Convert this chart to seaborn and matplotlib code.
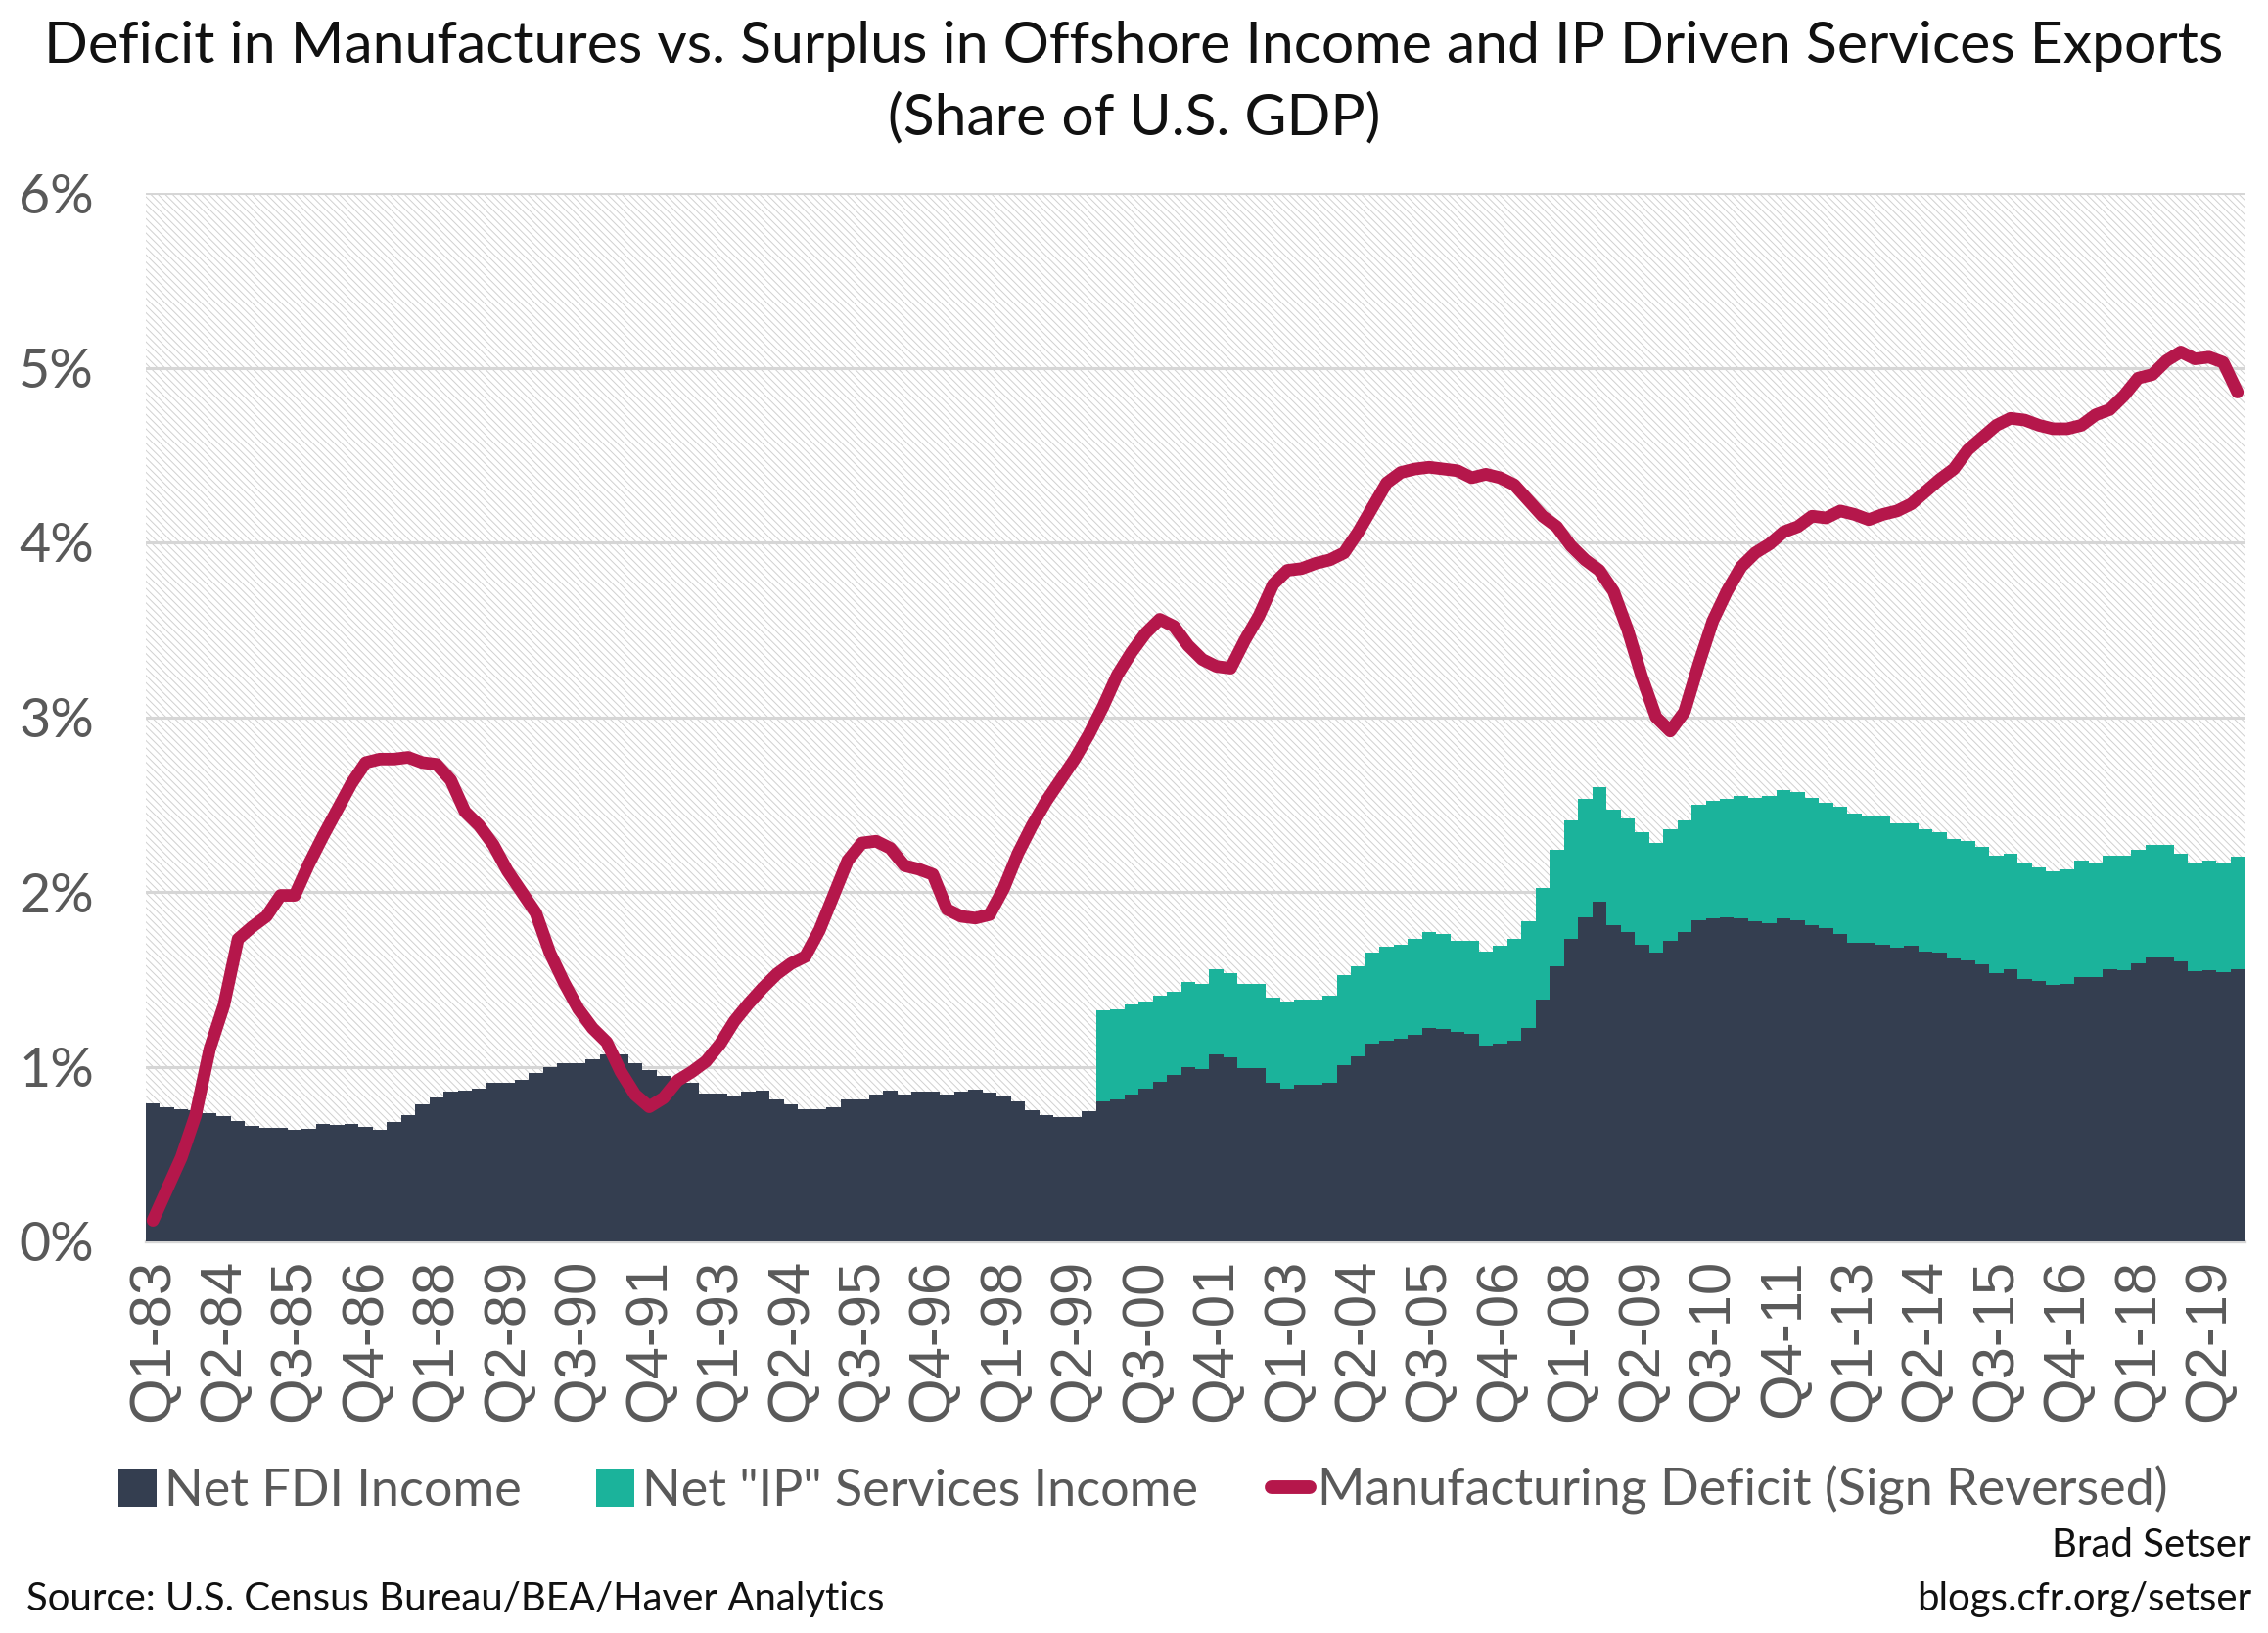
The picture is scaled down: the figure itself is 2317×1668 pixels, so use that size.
import numpy as np
import pandas as pd
import matplotlib
matplotlib.use("Agg")
import matplotlib.pyplot as plt
import seaborn as sns
from matplotlib.patches import Rectangle, Patch
from matplotlib.lines import Line2D

# ---------------- data ----------------
years = list(range(1983, 2020))
quarters = [f"Q{q}-{y % 100:02d}" for y in years for q in (1, 2, 3, 4)]

net_fdi_income = [
    0.79, 0.77, 0.755, 0.75, 0.735, 0.715, 0.69, 0.66, 0.65, 0.65,
    0.64, 0.645, 0.675, 0.665, 0.675, 0.655, 0.64, 0.685, 0.725, 0.785,
    0.825, 0.855, 0.865, 0.875, 0.905, 0.905, 0.925, 0.965, 0.995, 1.02,
    1.02, 1.04, 1.07, 1.07, 1.02, 0.98, 0.945, 0.915, 0.905, 0.845,
    0.845, 0.835, 0.855, 0.86, 0.815, 0.785, 0.755, 0.755, 0.765, 0.815,
    0.815, 0.84, 0.86, 0.84, 0.855, 0.855, 0.84, 0.855, 0.87, 0.85,
    0.835, 0.80, 0.75, 0.725, 0.71, 0.71, 0.745, 0.80, 0.815, 0.84,
    0.875, 0.915, 0.95, 0.995, 0.985, 1.07, 1.055, 0.99, 0.99, 0.905,
    0.875, 0.895, 0.895, 0.905, 1.01, 1.06, 1.13, 1.15, 1.16, 1.18,
    1.22, 1.215, 1.20, 1.19, 1.12, 1.13, 1.15, 1.22, 1.385, 1.575,
    1.73, 1.855, 1.945, 1.81, 1.77, 1.70, 1.65, 1.72, 1.77, 1.84,
    1.85, 1.855, 1.85, 1.83, 1.82, 1.85, 1.84, 1.81, 1.79, 1.76,
    1.71, 1.71, 1.70, 1.68, 1.69, 1.66, 1.65, 1.62, 1.61, 1.585,
    1.535, 1.555, 1.50, 1.49, 1.47, 1.475, 1.51, 1.51, 1.56, 1.55,
    1.59, 1.625, 1.625, 1.60, 1.545, 1.55, 1.54, 1.555,
]

ip_first_quarter = "Q4-99"
net_ip_services_income = [
    0.52, 0.515, 0.515, 0.50, 0.49, 0.48, 0.49, 0.49, 0.485, 0.48,
    0.485, 0.485, 0.49, 0.495, 0.49, 0.49, 0.50, 0.515, 0.515, 0.52,
    0.535, 0.54, 0.55, 0.55, 0.545, 0.52, 0.53, 0.54, 0.56, 0.58,
    0.61, 0.635, 0.665, 0.68, 0.675, 0.655, 0.66, 0.65, 0.64, 0.63,
    0.64, 0.64, 0.66, 0.67, 0.675, 0.70, 0.71, 0.73, 0.73, 0.73,
    0.73, 0.72, 0.73, 0.74, 0.72, 0.73, 0.71, 0.70, 0.70, 0.69,
    0.68, 0.68, 0.675, 0.675, 0.665, 0.66, 0.65, 0.65, 0.655, 0.67,
    0.66, 0.65, 0.66, 0.65, 0.645, 0.645, 0.62, 0.615, 0.63, 0.63,
    0.645,
]

manufacturing_deficit = [
    0.12, 0.30, 0.48, 0.72, 1.10, 1.35, 1.73, 1.80, 1.86, 1.98,
    1.98, 2.16, 2.32, 2.47, 2.62, 2.74, 2.76, 2.76, 2.77, 2.74,
    2.73, 2.64, 2.46, 2.38, 2.27, 2.12, 2.00, 1.88, 1.65, 1.48,
    1.33, 1.22, 1.14, 0.97, 0.84, 0.77, 0.82, 0.92, 0.97, 1.03,
    1.13, 1.26, 1.36, 1.45, 1.53, 1.59, 1.63, 1.78, 1.98, 2.18,
    2.28, 2.29, 2.25, 2.15, 2.13, 2.10, 1.90, 1.86, 1.85, 1.87,
    2.02, 2.22, 2.38, 2.52, 2.64, 2.76, 2.90, 3.06, 3.24, 3.37,
    3.48, 3.56, 3.52, 3.41, 3.33, 3.29, 3.28, 3.44, 3.58, 3.76,
    3.84, 3.85, 3.88, 3.90, 3.94, 4.06, 4.20, 4.34, 4.40, 4.42,
    4.43, 4.42, 4.41, 4.37, 4.39, 4.37, 4.33, 4.24, 4.15, 4.09,
    3.98, 3.90, 3.84, 3.72, 3.50, 3.23, 3.00, 2.92, 3.03, 3.30,
    3.55, 3.72, 3.86, 3.94, 3.99, 4.06, 4.09, 4.15, 4.14, 4.18,
    4.16, 4.13, 4.16, 4.18, 4.22, 4.29, 4.36, 4.42, 4.53, 4.60,
    4.67, 4.71, 4.70, 4.67, 4.65, 4.65, 4.67, 4.73, 4.76, 4.84,
    4.94, 4.96, 5.04, 5.09, 5.05, 5.06, 5.03, 4.86,
]

y_ticks = [0, 1, 2, 3, 4, 5, 6]
legend_labels = ["Net FDI Income", 'Net "IP" Services Income',
                 "Manufacturing Deficit (Sign Reversed)"]

# ---------------- table ----------------
df = pd.DataFrame({"quarter": quarters, "fdi": net_fdi_income,
                   "mfg": manufacturing_deficit})
ip = pd.Series(net_ip_services_income,
               index=range(quarters.index(ip_first_quarter), len(quarters)))
df["ip"] = ip
df["total"] = df["fdi"] + df["ip"]
df["pos"] = np.arange(len(df))

# ---------------- style ----------------
DARK = "#343e50"
TEAL = "#1bb39b"
RED = "#b5174b"
GRID = "#d6d6d6"
GRAY = "#595959"

sns.set_style("white")
plt.rcParams["font.family"] = ["Lato", "DejaVu Sans"]
plt.rcParams["hatch.linewidth"] = 0.35
plt.rcParams["hatch.color"] = "#d0d0d0"

W, H, DPI = 2317, 1668, 200
fig = plt.figure(figsize=(W / DPI, H / DPI), dpi=DPI)
L, R, T, B = 149, 2293, 197, 1268
ax = fig.add_axes([L / W, 1 - B / H, (R - L) / W, (B - T) / H])

# hatched background
bg = Rectangle((0, 0), 1, 1, transform=ax.transAxes, facecolor="white",
               edgecolor="#d0d0d0", hatch="\\" * 9, linewidth=0, zorder=0)
ax.add_patch(bg)

sns.barplot(data=df, x="quarter", y="total", color=TEAL, width=1.0,
            saturation=1, linewidth=0, errorbar=None, ax=ax, zorder=2,
            antialiased=False)
sns.barplot(data=df, x="quarter", y="fdi", color=DARK, width=1.0,
            saturation=1, linewidth=0, errorbar=None, ax=ax, zorder=3,
            antialiased=False)
sns.lineplot(data=df, x="pos", y="mfg", color=RED, linewidth=4.6, ax=ax,
             zorder=4, solid_capstyle="round", solid_joinstyle="round",
             sort=False, estimator=None)

n = len(quarters)
ax.set_xlim(-0.5, n - 0.5)
ax.set_ylim(0, 6)
ax.set_xlabel("")
ax.set_ylabel("")

ticks = list(range(0, n, 5))
ax.set_xticks(ticks)
ax.set_xticklabels([quarters[i] for i in ticks], rotation=90,
                   fontfamily="Liberation Sans", fontsize=21.5, color=GRAY)
ax.set_yticks(y_ticks)
ax.set_yticklabels([f"{v}%" for v in y_ticks], fontsize=20, color=GRAY)
ax.tick_params(axis="x", length=0, pad=6.5)
ax.tick_params(axis="y", length=0, pad=19)
for lab in ax.get_yticklabels():
    lab.set_horizontalalignment("right")

ax.set_axisbelow(True)
ax.yaxis.grid(True, color=GRID, linewidth=1.1, zorder=0.5)
ax.xaxis.grid(False)
for s in ["left", "right", "top"]:
    ax.spines[s].set_visible(False)
ax.spines["bottom"].set_color(GRID)
ax.spines["bottom"].set_linewidth(1.2)

# ---------------- texts ----------------
renderer = fig.canvas.get_renderer()


def fit_width(t, target):
    for _ in range(3):
        w = t.get_window_extent(renderer).width
        t.set_fontsize(t.get_fontsize() * target / w)


t1 = fig.text(0.5, 1 - 47 / H,
              "Deficit in Manufactures vs. Surplus in Offshore Income and IP Driven Services Exports",
              ha="center", va="center", fontsize=20, color="#111111")
fit_width(t1, 2229)
t2 = fig.text(0.5, 1 - 121 / H, "(Share of U.S. GDP)", ha="center",
              va="center", fontsize=t1.get_fontsize(), color="#111111")

src = fig.text(27 / W, 1 - 1633 / H,
               "Source: U.S. Census Bureau/BEA/Haver Analytics",
               ha="left", va="center", fontsize=14, color="#111111")
fit_width(src, 877)
fs_src = src.get_fontsize()
fig.text(2300 / W, 1 - 1578 / H, "Brad Setser", ha="right", va="center",
         fontsize=fs_src, color="#111111")
fig.text(2300 / W, 1 - 1633 / H, "blogs.cfr.org/setser", ha="right",
         va="center", fontsize=fs_src, color="#111111")

probe = fig.text(0, 0, legend_labels[0], fontsize=18)
fit_width(probe, 365)
fs_leg = probe.get_fontsize()
probe.remove()

handles = [Patch(facecolor=DARK, edgecolor="none"),
           Patch(facecolor=TEAL, edgecolor="none"),
           Line2D([], [], color=RED, linewidth=5, solid_capstyle="round")]
fig.legend(handles, legend_labels, loc="center",
           bbox_to_anchor=(1168 / W, 1 - 1522 / H), ncol=3, frameon=False,
           fontsize=fs_leg, labelcolor=GRAY, handlelength=0.75,
           handleheight=0.75, handletextpad=0.15, columnspacing=1.45,
           borderaxespad=0, borderpad=0)

fig.savefig("out.png", dpi=DPI)
